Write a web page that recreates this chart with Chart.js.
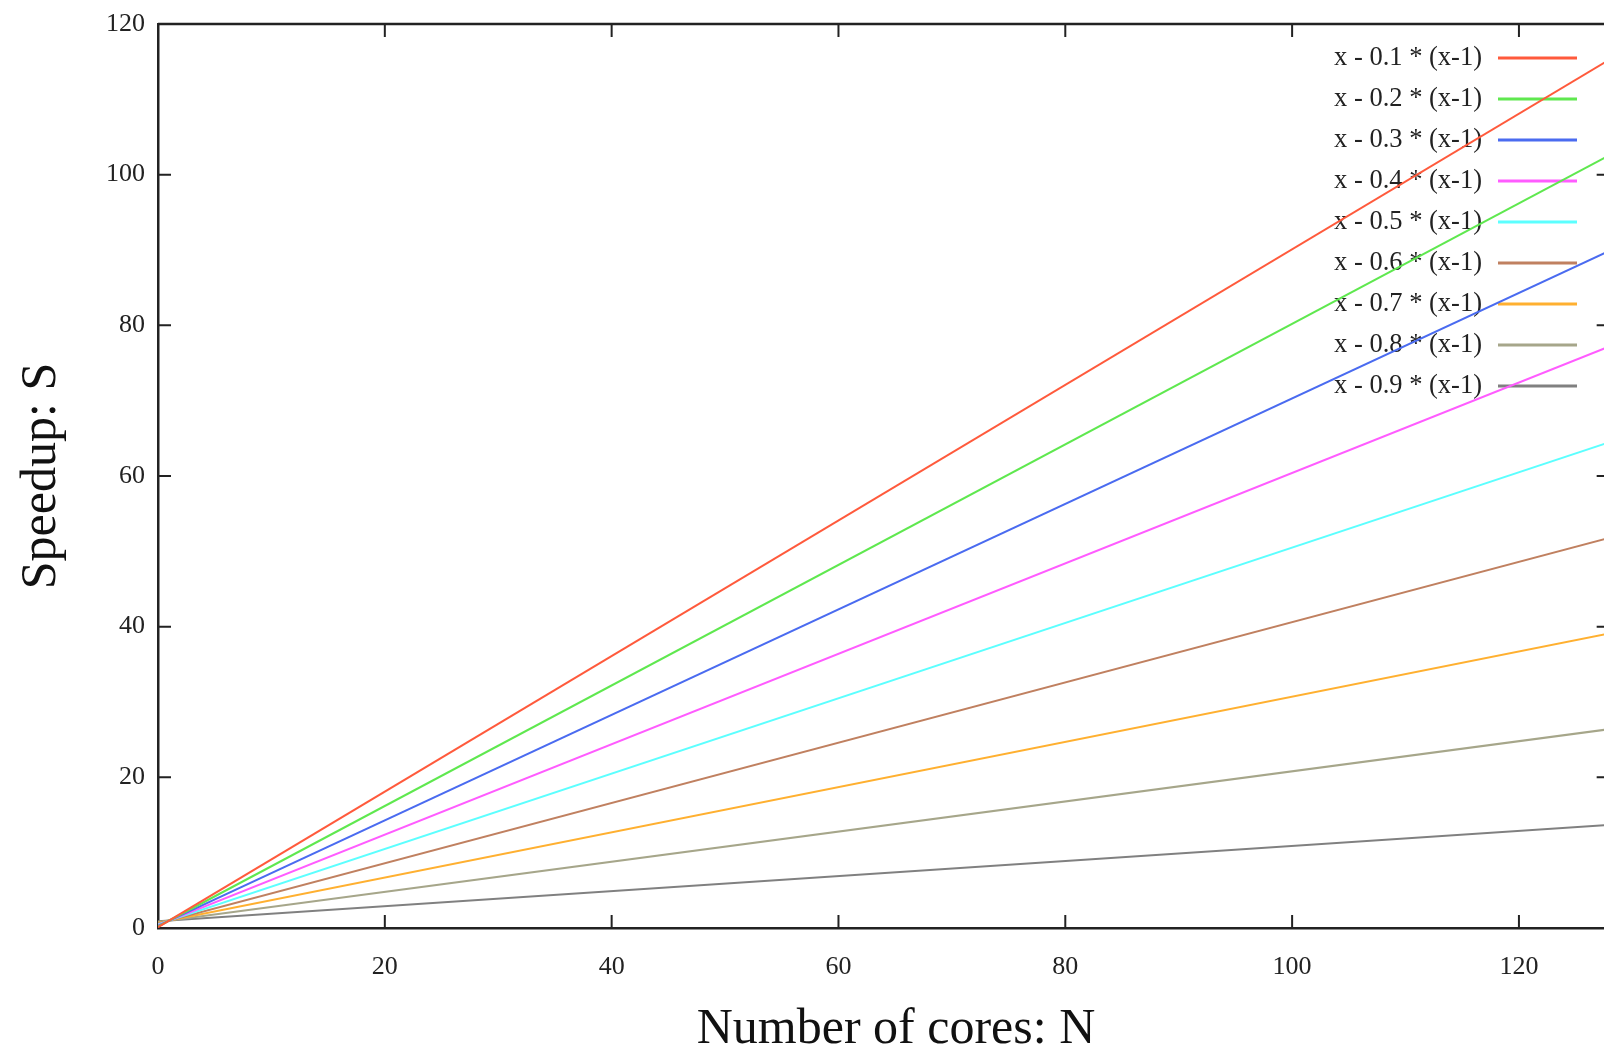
<!DOCTYPE html>
<html>
<head>
<meta charset="utf-8">
<script src="https://cdn.jsdelivr.net/npm/chart.js@4"></script>
<style>
  html, body { margin: 0; padding: 0; background: #fff; }
  #wrap { width: 1604px; height: 1052px; }
</style>
</head>
<body>
<div id="wrap"><canvas id="speedupChart"></canvas></div>
<script>
// x values where each line is sampled (N cores)
const coreCounts = [0, 128];

// speedup at N = 0 and N = 128
const s01 = [0.1, 115.3];
const s02 = [0.2, 102.6];
const s03 = [0.3, 89.9];
const s04 = [0.4, 77.2];
const s05 = [0.5, 64.5];
const s06 = [0.6, 51.8];
const s07 = [0.7, 39.1];
const s08 = [0.8, 26.4];
const s09 = [0.9, 13.7];

const seriesLabels = [
    'x - 0.1 * (x-1)', 'x - 0.2 * (x-1)', 'x - 0.3 * (x-1)',
    'x - 0.4 * (x-1)', 'x - 0.5 * (x-1)', 'x - 0.6 * (x-1)',
    'x - 0.7 * (x-1)', 'x - 0.8 * (x-1)', 'x - 0.9 * (x-1)'
];
const seriesValues = [s01, s02, s03, s04, s05, s06, s07, s08, s09];
const seriesColors = [
    '#ff5a3c', '#5fe84f', '#4a6bf0', '#ff5cff', '#5cffff',
    '#c08060', '#ffb030', '#a6a68a', '#808080'
];

const xTicks = [0, 20, 40, 60, 80, 100, 120];
const yTicks = [0, 20, 40, 60, 80, 100, 120];

const serif = "'Liberation Serif', 'DejaVu Serif', serif";
const axisColor = '#222';

const datasets = seriesLabels.map((label, i) => ({
    label: label,
    data: coreCounts.map((n, k) => ({ x: n, y: seriesValues[i][k] })),
    borderColor: seriesColors[i],
    backgroundColor: seriesColors[i],
    borderWidth: 2,
    pointRadius: 0,
    tension: 0
}));

// gnuplot style legend: text on the left, line sample on the right
const legendPlugin = {
    id: 'gnuLegend',
    beforeDatasetsDraw(chart) {
        const ctx = chart.ctx;
        ctx.save();
        ctx.font = '26.5px ' + serif;
        ctx.textAlign = 'right';
        ctx.textBaseline = 'middle';
        chart.data.datasets.forEach((ds, i) => {
            const y = 58 + i * 41;
            ctx.fillStyle = axisColor;
            ctx.fillText(ds.label, 1482, y);
            ctx.strokeStyle = ds.borderColor;
            ctx.lineWidth = 3;
            ctx.beginPath();
            ctx.moveTo(1498, y);
            ctx.lineTo(1577, y);
            ctx.stroke();
        });
        ctx.restore();
    }
};

// inward ticks on all four sides, top frame line and the x axis title
const frameTicks = {
    id: 'frameTicks',
    afterDraw(chart) {
        const { ctx, chartArea: a, scales: { x, y } } = chart;
        const len = 13;
        const rightPx = x.getPixelForValue(128);
        ctx.save();
        ctx.strokeStyle = axisColor;
        ctx.lineWidth = 2.5;
        ctx.beginPath();
        ctx.moveTo(a.left, a.top);
        ctx.lineTo(rightPx, a.top);
        ctx.stroke();
        ctx.lineWidth = 2;
        ctx.beginPath();
        xTicks.forEach(v => {
            if (v === 0) return;
            const px = x.getPixelForValue(v);
            ctx.moveTo(px, a.bottom); ctx.lineTo(px, a.bottom - len);
            ctx.moveTo(px, a.top); ctx.lineTo(px, a.top + len);
        });
        yTicks.forEach(v => {
            if (v === 0 || v === 120) return;
            const py = y.getPixelForValue(v);
            ctx.moveTo(a.left, py); ctx.lineTo(a.left + len, py);
            ctx.moveTo(rightPx, py); ctx.lineTo(rightPx - len, py);
        });
        ctx.stroke();

        ctx.fillStyle = '#111';
        ctx.font = '50px ' + serif;
        ctx.textAlign = 'center';
        ctx.textBaseline = 'alphabetic';
        ctx.fillText('Number of cores: N', 896, 1043);
        ctx.restore();
    }
};

const ctx = document.getElementById('speedupChart').getContext('2d');

new Chart(ctx, {
    type: 'line',
    data: { datasets: datasets },
    options: {
        responsive: true,
        maintainAspectRatio: false,
        animation: false,
        layout: { padding: { top: 24, right: 0, left: 0, bottom: 0 } },
        plugins: {
            legend: { display: false },
            tooltip: { enabled: false }
        },
        scales: {
            x: {
                type: 'linear',
                min: 0,
                max: 127.5,
                afterBuildTicks: s => { s.ticks = xTicks.map(v => ({ value: v })); },
                afterFit: s => { s.height = 124; s.paddingLeft = 0; s.paddingRight = 0; },
                grid: { display: false, drawTicks: false },
                border: { display: true, color: axisColor, width: 2.5 },
                ticks: {
                    padding: 24,
                    color: axisColor,
                    font: { family: serif, size: 26 },
                    maxRotation: 0
                },
                title: { display: false }
            },
            y: {
                min: 0,
                max: 120,
                afterBuildTicks: s => { s.ticks = yTicks.map(v => ({ value: v })); },
                afterFit: s => { s.width = 158; s.paddingTop = 0; s.paddingBottom = 0; },
                grid: { display: false, drawTicks: false },
                border: { display: true, color: axisColor, width: 2.5 },
                ticks: {
                    padding: 13,
                    color: axisColor,
                    font: { family: serif, size: 26 }
                },
                title: {
                    display: true,
                    text: 'Speedup: S',
                    color: '#111',
                    font: { family: serif, size: 50 },
                    padding: { top: 12, bottom: 0 }
                }
            }
        }
    },
    plugins: [legendPlugin, frameTicks]
});
</script>
</body>
</html>
